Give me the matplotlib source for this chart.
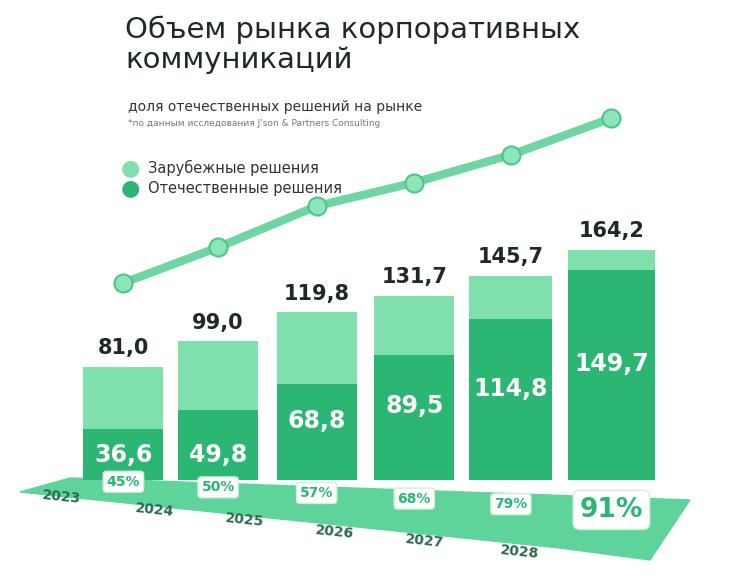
import matplotlib.pyplot as plt
from matplotlib.patches import Polygon

years = ["2023", "2024", "2025", "2026", "2027", "2028"]
totals = [81.0, 99.0, 119.8, 131.7, 145.7, 164.2]
domestic = [36.6, 49.8, 68.8, 89.5, 114.8, 149.7]
shares = ["45%", "50%", "57%", "68%", "79%", "91%"]

LIGHT = "#7fe0ae"
DARK = "#2bb673"
TEXT = "#1e2a2a"

W, H = 744, 586
fig = plt.figure(figsize=(W / 100, H / 100), dpi=100)
fig.patch.set_facecolor("white")

def fx(px):
    return px / W

def fy(py):
    return 1 - py / H

# platform under the bars
plat = Polygon([(fx(20), fy(492)), (fx(70), fy(478)), (fx(690), fy(500)),
                (fx(650), fy(560)), (fx(560), fy(548))],
               closed=True, transform=fig.transFigure, color="#5fd49a", zorder=-5)
fig.patches.append(plat)

ax = fig.add_axes([fx(60), fy(500), fx(610), fy(100) - fy(500)])
ax.set_xlim(-0.65, 5.6)
ax.set_ylim(-14, 271)
ax.axis("off")
ax.set_zorder(3)

widths = [0.82, 0.82, 0.82, 0.82, 0.85, 0.9]
xs = [0, 0.97, 1.98, 2.98, 3.97, 5.0]

ax.bar(xs, totals, width=widths, color=LIGHT, zorder=2)
ax.bar(xs, domestic, width=widths, color=DARK, zorder=3)

for xi, t, d in zip(xs, totals, domestic):
    lab = f"{t:.1f}".replace(".", ",")
    ax.text(xi, t + 6, lab, ha="center", va="bottom", fontsize=15,
            fontweight="bold", color=TEXT)
    ax.text(xi, min(d / 2 + 8, d - 14) if d > 60 else 18,
            f"{d:.1f}".replace(".", ","), ha="center", va="center",
            fontsize=17, fontweight="bold", color="white", zorder=4)

# share boxes
for i, (xi, s) in enumerate(zip(xs, shares)):
    big = i == len(shares) - 1
    ax.text(xi, -1 - i * 4, s, ha="center", va="center",
            fontsize=19 if big else 10, fontweight="bold", color=DARK, zorder=5,
            clip_on=False,
            bbox=dict(boxstyle="round,pad=0.25", fc="white", ec="#cfeede"))

# trend line (behind the bars)
ax2 = fig.add_axes(ax.get_position(), sharex=ax)
ax2.set_ylim(-28.6, 173.4)
ax2.axis("off")
ax2.set_zorder(1)
ax2.plot(xs, totals, color="#6fd6a3", lw=6, solid_capstyle="round", zorder=1)
ax2.plot(xs, totals, "o", color="#8de6b9", ms=13, mec="#4fc488", mew=1.5)

# years along the platform
year_px = [(62, 497), (155, 510), (245, 520), (335, 532), (425, 541), (520, 552)]
for (px, py), yr in zip(year_px, years):
    fig.text(fx(px), fy(py), yr, ha="center", va="center", fontsize=10,
             fontweight="bold", color="#2a6b4d", rotation=-6, zorder=6)

fig.text(fx(125), fy(45), "Объем рынка корпоративных\nкоммуникаций", fontsize=21,
         fontweight="medium", color=TEXT, va="center", ha="left", linespacing=1.1)
fig.text(fx(128), fy(107), "доля отечественных решений на рынке", fontsize=10,
         color="#333333", va="center")
fig.text(fx(128), fy(124), "*по данным исследования J'son & Partners Consulting",
         fontsize=6.5, color="#777777", va="center")

fig.text(fx(130), fy(168), "●", color=LIGHT, fontsize=16, va="center", ha="center")
fig.text(fx(148), fy(168), "Зарубежные решения", fontsize=10.5, color="#333333", va="center")
fig.text(fx(130), fy(188), "●", color=DARK, fontsize=16, va="center", ha="center")
fig.text(fx(148), fy(188), "Отечественные решения", fontsize=10.5, color="#333333", va="center")

fig.savefig("out.png", dpi=100)
